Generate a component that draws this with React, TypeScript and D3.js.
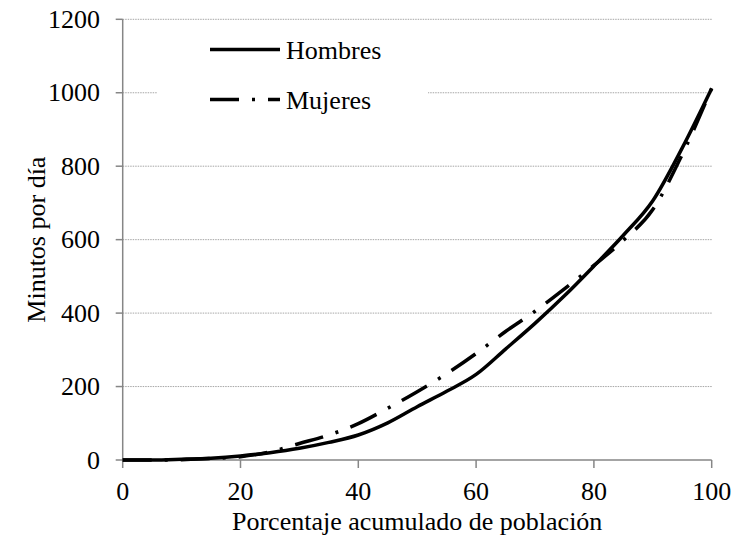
import React from "react";
import * as d3 from "d3";

// percent of population (x) and minutes per day
const percentiles = [0, 5, 10, 15, 20, 25, 30, 35, 40, 45, 50, 55, 60, 65, 70, 75, 80, 85, 90, 95, 100];
const hombres = [0, 0, 2, 5, 11, 20, 32, 48, 68, 101, 145, 187, 233, 302, 372, 447, 528, 612, 706, 850, 1012];
const mujeres = [0, 0, 1, 4, 9, 22, 45, 68, 99, 141, 186, 235, 290, 350, 405, 466, 530, 598, 682, 832, 1012];

const xTicks = [0, 20, 40, 60, 80, 100];
const yTicks = [0, 200, 400, 600, 800, 1000, 1200];

const FONT = '"Liberation Serif"';
const FS = 26;
const DASH = "29,13,3,13";

const width = 737;
const height = 551;

const x = d3.scaleLinear().domain([0, 100]).range([122.7, 711.7]);
const y = d3.scaleLinear().domain([0, 1200]).range([460, 19.3]);

const line = d3
  .line<number>()
  .curve(d3.curveMonotoneX)
  .x((_, i) => x(percentiles[i]))
  .y((d) => y(d));

const axisColor = "#868686";

const legendItems = [
  { name: "Hombres", dash: undefined as string | undefined, cy: 49.5 },
  { name: "Mujeres", dash: DASH, cy: 99.5 },
];

export default function App() {
  const textStyle = { fontFamily: FONT, fontSize: FS };
  return (
    <svg
      width={width}
      height={height}
      style={{ position: "absolute", left: 0, top: 0, display: "block" }}
    >
      <rect width={width} height={height} fill="#fff" />

      {/* grid */}
      {yTicks
        .filter((t) => t > 0)
        .map((t) => (
          <line
            key={"g" + t}
            x1={x(0)}
            x2={x(100)}
            y1={y(t)}
            y2={y(t)}
            stroke="#a6a6a6"
            strokeWidth={1}
            strokeDasharray="1.5,1"
          />
        ))}

      {/* axes */}
      <line x1={x(0)} x2={x(0)} y1={y(0)} y2={y(1200)} stroke={axisColor} strokeWidth={1.5} />
      <line x1={x(0)} x2={x(100)} y1={y(0)} y2={y(0)} stroke={axisColor} strokeWidth={1.5} />

      {yTicks.map((t) => (
        <g key={"y" + t}>
          <line x1={x(0) - 7} x2={x(0)} y1={y(t)} y2={y(t)} stroke={axisColor} strokeWidth={1.5} />
          <text x={100} y={y(t) + 8.5} textAnchor="end" style={textStyle}>
            {t}
          </text>
        </g>
      ))}

      {xTicks.map((t) => (
        <g key={"x" + t}>
          <line x1={x(t)} x2={x(t)} y1={y(0)} y2={y(0) + 8} stroke={axisColor} strokeWidth={1.5} />
          <text x={x(t)} y={500} textAnchor="middle" style={textStyle}>
            {t}
          </text>
        </g>
      ))}

      {/* axis titles */}
      <text x={(x(0) + x(100)) / 2} y={530} textAnchor="middle" style={textStyle}>
        Porcentaje acumulado de población
      </text>
      <text
        transform={`translate(45, ${(y(0) + y(1200)) / 2}) rotate(-90)`}
        textAnchor="middle"
        style={textStyle}
      >
        Minutos por día
      </text>

      {/* series */}
      <path d={line(mujeres) || ""} fill="none" stroke="#000" strokeWidth={3.5} strokeDasharray={DASH} />
      <path d={line(hombres) || ""} fill="none" stroke="#000" strokeWidth={3.5} />

      {/* legend */}
      <rect x={157} y={28} width={271} height={90} fill="#fff" />
      {legendItems.map((it) => (
        <g key={it.name}>
          <line
            x1={210}
            x2={280}
            y1={it.cy}
            y2={it.cy}
            stroke="#000"
            strokeWidth={3.5}
            strokeDasharray={it.dash}
          />
          <text x={286} y={it.cy + 9.5} style={textStyle}>
            {it.name}
          </text>
        </g>
      ))}
    </svg>
  );
}
